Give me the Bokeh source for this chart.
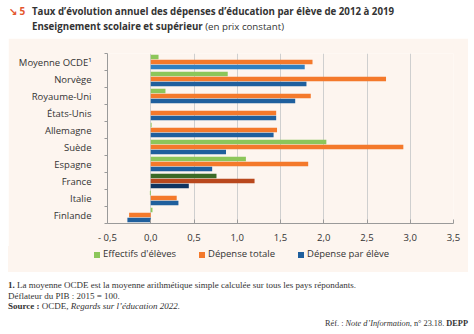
from bokeh.plotting import figure
from bokeh.models import Range1d, ColumnDataSource, FixedTicker, Div
from bokeh.layouts import column
from bokeh.transform import dodge
from bokeh.embed import file_html
from bokeh.resources import INLINE

categories = ["Moyenne OCDE¹", "Norvège", "Royaume-Uni", "États-Unis", "Allemagne",
              "Suède", "Espagne", "France", "Italie", "Finlande"]
effectifs = [0.09, 0.89, 0.17, 0.0, 0.01, 2.03, 1.10, 0.76, -0.01, 0.02]
depense_totale = [1.87, 2.72, 1.85, 1.45, 1.46, 2.92, 1.82, 1.20, 0.30, -0.25]
depense_eleve = [1.78, 1.80, 1.67, 1.45, 1.42, 0.87, 0.71, 0.44, 0.32, -0.27]
x_ticks = [-0.5, 0.0, 0.5, 1.0, 1.5, 2.0, 2.5, 3.0, 3.5]
tick_labels = ["- 0,5", "0,0", "0,5", "1,0", "1,5", "2,0", "2,5", "3,0", "3,5"]
series_names = ["Effectifs d'élèves", "Dépense totale", "Dépense par élève"]

GREEN, GREEN_D = "#8cc65a", "#3b6a27"
ORANGE, ORANGE_D = "#f4792b", "#b9481d"
BLUE, BLUE_D, BLUE_L = "#1f5f9d", "#0f3461", "#2f80c2"
BEIGE = "#fdf5ef"
TXT = "#333333"
FONT = "Open Sans"

def colors(base, dark, light=None):
    out = []
    for c in categories:
        if c == "France":
            out.append(dark)
        elif c.startswith("Moyenne") and light:
            out.append(light)
        else:
            out.append(base)
    return out

n = len(categories)
ypos = [n - i - 0.5 for i in range(n)]  # category slot centres, first category on top

src = ColumnDataSource(dict(y=ypos, eff=effectifs, tot=depense_totale, par=depense_eleve,
                            c_eff=colors(GREEN, GREEN_D), c_tot=colors(ORANGE, ORANGE_D),
                            c_par=colors(BLUE, BLUE_D, BLUE_L)))

p = figure(width=460, height=208, output_backend="svg", toolbar_location=None,
           y_range=Range1d(0, n), x_range=Range1d(-0.5, 3.5),
           min_border_left=99, min_border_right=15, min_border_top=15, min_border_bottom=21,
           margin=(0, 0, 0, 8))
p.background_fill_color = BEIGE
p.border_fill_color = BEIGE
p.outline_line_color = None

h = 0.26
p.hbar(y=dodge("y", 0.29), left=0, right="eff", height=h,
       fill_color="c_eff", line_color=None, source=src)
p.hbar(y=dodge("y", 0.0), left=0, right="tot", height=h,
       fill_color="c_tot", line_color=None, source=src)
p.hbar(y=dodge("y", -0.29), left=0, right="par", height=h,
       fill_color="c_par", line_color=None, source=src)

p.xaxis.ticker = FixedTicker(ticks=x_ticks)
p.xaxis.major_label_overrides = {t: l for t, l in zip(x_ticks, tick_labels)}
p.xaxis.axis_line_color = "#9a9a9a"
p.xaxis.major_tick_line_color = "#9a9a9a"
p.xaxis.major_tick_in = 4
p.xaxis.major_tick_out = 0
p.xaxis.minor_tick_line_color = None
p.xaxis.major_label_text_font = FONT
p.xaxis.major_label_text_font_size = "9.5px"
p.xaxis.major_label_text_color = TXT
p.xaxis.major_label_standoff = 7

p.yaxis.ticker = FixedTicker(ticks=ypos, minor_ticks=list(range(n + 1)))
p.yaxis.major_label_overrides = {y: c for y, c in zip(ypos, categories)}
p.yaxis.axis_line_color = "#9a9a9a"
p.yaxis.major_tick_line_color = None
p.yaxis.minor_tick_line_color = "#9a9a9a"
p.yaxis.minor_tick_in = 0
p.yaxis.minor_tick_out = 3
p.yaxis.major_label_text_font = FONT
p.yaxis.major_label_text_font_size = "9.5px"
p.yaxis.major_label_text_color = TXT
p.yaxis.major_label_standoff = 10

p.xgrid.grid_line_color = "#cfcfcf"
p.xgrid.ticker = FixedTicker(ticks=x_ticks[1:])
p.ygrid.grid_line_color = None

title_html = (
    '<div style="position:relative;width:474px;height:38px;font-family:\'Open Sans\';'
    'font-size:9.7px;line-height:15px;color:#333;">'
    '<span style="position:absolute;left:9px;top:4px;color:#e4572e;font-weight:bold;font-size:10px;">↘ 5</span>'
    '<span style="position:absolute;left:32px;top:4px;font-weight:bold;white-space:nowrap;">'
    'Taux d’évolution annuel des dépenses d’éducation par élève de 2012 à 2019</span>'
    '<span style="position:absolute;left:32px;top:19px;white-space:nowrap;">'
    '<b>Enseignement scolaire et supérieur</b> (en prix constant)</span>'
    '</div>')
title_div = Div(text=title_html, width=474, height=38, margin=0)

legend_colors = [GREEN, ORANGE, BLUE]
legend_left = [86, 191, 290]
items = ""
for name, col, lx in zip(series_names, legend_colors, legend_left):
    items += ('<span style="position:absolute;left:%dpx;top:6px;width:6px;height:6px;background:%s;"></span>'
              '<span style="position:absolute;left:%dpx;top:1px;white-space:nowrap;">%s</span>'
              % (lx, col, lx + 9, name))
legend_html = ('<div style="position:relative;width:460px;height:26px;background:%s;'
               'font-family:\'Open Sans\';font-size:9.5px;line-height:14px;color:#333;">%s</div>'
               % (BEIGE, items))
legend_div = Div(text=legend_html, width=460, height=26, margin=(0, 0, 0, 8))

foot_html = (
    '<div style="position:relative;width:474px;height:62px;font-family:\'Liberation Serif\';'
    'color:#333;">'
    '<div style="position:absolute;left:8px;top:8px;white-space:nowrap;font-size:9px;line-height:10.5px;">'
    '<b>1.</b> La moyenne OCDE est la moyenne arithmétique simple calculée sur tous les pays répondants.<br>'
    'Déflateur du PIB : 2015 = 100.<br>'
    '<b>Source :</b> OCDE, <i>Regards sur l’éducation 2022.</i></div>'
    '<div style="position:absolute;right:6px;top:47px;white-space:nowrap;font-size:8.3px;line-height:10px;">'
    'Réf. : <i>Note d’Information</i>, n° 23.18. <b>DEPP</b></div>'
    '</div>')
foot_div = Div(text=foot_html, width=474, height=62, margin=0)

layout = column(title_div, p, legend_div, foot_div, spacing=0)

open("out.html", "w").write(file_html(layout, INLINE))
